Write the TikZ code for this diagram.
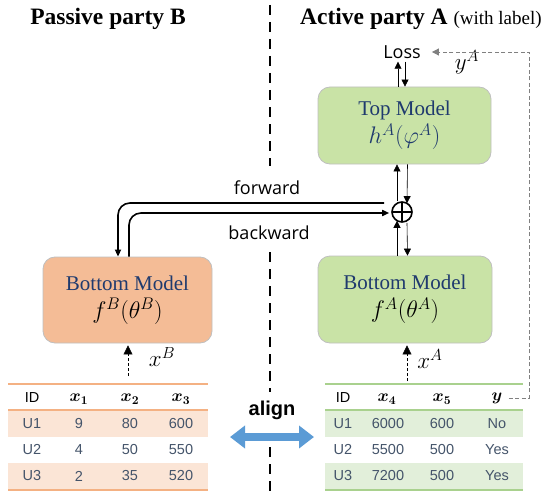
\RequirePackage{fix-cm}
\documentclass[tikz,border=0pt]{standalone}
\usepackage{fontspec}
\usepackage{bm}
\setmainfont{Liberation Serif}
\setsansfont{Liberation Sans}
\newfontfamily\lightsans{Open Sans}
\usetikzlibrary{arrows.meta,calc}
\definecolor{boxgreen}{HTML}{C9E3A6}
\definecolor{boxorange}{HTML}{F4BC96}
\definecolor{navy}{HTML}{1F3A6E}
\definecolor{rowor}{HTML}{FBE5D6}
\definecolor{rowgr}{HTML}{E2EFDA}
\definecolor{lineor}{HTML}{F4B183}
\definecolor{linegr}{HTML}{A9D18E}
\definecolor{tabtext}{HTML}{44546A}
\definecolor{alignblue}{HTML}{5B9BD5}
\tikzset{
  model/.style={draw=black!25, line width=0.8pt, rounded corners=12pt, inner sep=0pt, align=center,
     font=\fontsize{21}{27}\selectfont},
  tip/.style={-{Triangle[length=7pt,width=7pt]}},
  thinarrow/.style={line width=0.6pt, tip},
  flow/.style={line width=1.6pt, rounded corners=12pt, -{Triangle[length=7pt,width=6pt]}},
  divider/.style={line width=2.4pt, dash pattern=on 10pt off 7pt},
  cell/.style={font=\fontsize{14.5}{16}\selectfont\sffamily, text=tabtext, inner sep=0pt},
  hcell/.style={font=\fontsize{14.5}{16}\selectfont\sffamily, text=black, inner sep=0pt},
  mcell/.style={font=\fontsize{17}{17}\selectfont, inner sep=0pt},
  labeltxt/.style={font=\fontsize{18}{20}\selectfont\lightsans, inner sep=0pt},
  mathlbl/.style={font=\fontsize{23}{24}\selectfont, inner sep=0pt},
}
\begin{document}
\begin{tikzpicture}[x=1pt,y=-1pt]
\useasboundingbox (0,0) rectangle (549,495);
% titles
\node[anchor=base, font=\fontsize{23.5}{26}\selectfont\bfseries, inner sep=0pt] (titleB) at (108,25) {Passive party B};
\node[anchor=base west, font=\fontsize{23.5}{26}\selectfont, inner sep=0pt] (titleA) at (300,25) {\textbf{Active party A} {\fontsize{19}{20}\selectfont (with label)}};
% divider
\coordinate (d1) at (270,5); \coordinate (d2) at (270,166);
\coordinate (d3) at (270,252); \coordinate (d4) at (270,392);
\coordinate (d5) at (270,447); \coordinate (d6) at (270,495);
\draw[divider] (d1) -- (d2);
\draw[divider] (d3) -- (d4);
\draw[divider] (d5) -- (d6);
% models
\node[model, fill=boxgreen, minimum width=173pt, minimum height=77pt] (top) at (404.5,125.5)
  {\textcolor{navy}{Top Model}\\[1pt] \textcolor{navy}{\fontsize{24}{27}\selectfont$h^{A}(\varphi^{A})$}};
\node[model, fill=boxgreen, minimum width=174pt, minimum height=87pt] (botA) at (405,299.5)
  {\textcolor{navy}{Bottom Model}\\[1pt] {\fontsize{24}{27}\selectfont$f^{A}(\theta^{A})$}};
\node[model, fill=boxorange, minimum width=169pt, minimum height=86pt] (botB) at (127.5,300)
  {\textcolor{navy}{Bottom Model}\\[1pt] {\fontsize{24}{27}\selectfont$f^{B}(\theta^{B})$}};
% loss
\node[labeltxt] (loss) at (402,52) {Loss};
\node[mathlbl] (yA) at (467,62) {$y^{A}$};
% plus
\node[circle, draw, line width=1.6pt, minimum size=20pt, inner sep=0pt,
  path picture={\draw[line width=1.6pt] (path picture bounding box.north) -- (path picture bounding box.south)
  (path picture bounding box.west) -- (path picture bounding box.east);}] (plus) at (402,212) {};
% loss <-> top
\draw[thinarrow] ([xshift=-6.5pt]top.north) -- ([xshift=-6.5pt,yshift=-3pt]top.north |- loss.south);
\draw[thinarrow] ([xshift=0.5pt,yshift=-3pt]top.north |- loss.south) -- ([xshift=0.5pt]top.north);
% top <-> plus
\draw[thinarrow] ([xshift=-5pt]plus.north) -- ([xshift=-7.5pt]top.south);
\draw[thinarrow] ([xshift=3pt]top.south) -- ([xshift=5pt,yshift=-2pt]plus.north);
% plus <-> botA
\draw[thinarrow] ([xshift=-8pt]botA.north) -- ([xshift=-5pt,yshift=2pt]plus.south);
\draw[thinarrow] ([xshift=5pt]plus.south) -- ([xshift=2.5pt]botA.north);
% forward / backward
\draw[flow] ([xshift=-7pt,yshift=9pt]plus.west) -| ([xshift=-9.5pt]botB.north);
\draw[flow] ([xshift=1.5pt]botB.north) |- ([xshift=-2pt,yshift=-1pt]plus.west);
\node[labeltxt] (fwd) at (267,188) {forward};
\node[labeltxt] (bwd) at (269,233) {backward};
% label link
\coordinate (yc) at (529,398);
% inputs
\coordinate (xAin) at (407,381);
\coordinate (xBin) at (128,376);
\draw[line width=0.6pt, dash pattern=on 3pt off 2pt] (xAin) -- ([yshift=-8pt]xAin |- botA.south);
\draw[-{Triangle[length=9pt,width=9pt]}] ([yshift=-9pt]xAin |- botA.south) -- ([yshift=-2pt]xAin |- botA.south);
\draw[line width=0.6pt, dash pattern=on 3pt off 2pt] (xBin) -- ([yshift=-8pt]xBin |- botB.south);
\draw[-{Triangle[length=9pt,width=9pt]}] ([yshift=-9pt]xBin |- botB.south) -- ([yshift=-2pt]xBin |- botB.south);
\node[mathlbl] (xA) at (430,359) {$x^{A}$};
\node[mathlbl] (xB) at (162,357) {$x^{B}$};
% left table
\fill[rowor] (8,410) rectangle (208,437);
\fill[rowor] (8,463) rectangle (208,489);
\draw[lineor, line width=1.5pt] (8,384) -- (208,384);
\draw[lineor, line width=1.5pt] (8,410) -- (208,410);
\draw[lineor, line width=1.5pt] (8,490) -- (208,490);
\node[hcell] (L00) at (32,398) {ID};
\node[mcell] (L01) at (79,399) {$\bm{x}_{\bm{1}}$};
\node[mcell] (L02) at (130,399) {$\bm{x}_{\bm{2}}$};
\node[mcell] (L03) at (181,399) {$\bm{x}_{\bm{3}}$};
\foreach \r/\y/\a/\b/\c/\d in {1/424/U1/9/80/600, 2/450/U2/4/50/550, 3/476/U3/2/35/520}{
  \node[cell] (L\r0) at (32,\y) {\a};
  \node[cell] (L\r1) at (79,\y) {\b};
  \node[cell] (L\r2) at (130,\y) {\c};
  \node[cell] (L\r3) at (181,\y) {\d};
}
% right table
\fill[rowgr] (325,410) rectangle (523,437);
\fill[rowgr] (325,463) rectangle (523,489);
\draw[linegr, line width=1.5pt] (325,384) -- (523,384);
\draw[linegr, line width=1.5pt] (325,410) -- (523,410);
\draw[linegr, line width=1.5pt] (325,490) -- (523,490);
\node[hcell] (R00) at (343,398) {ID};
\node[mcell] (R01) at (387,399) {$\bm{x}_{\bm{4}}$};
\node[mcell] (R02) at (442,399) {$\bm{x}_{\bm{5}}$};
\node[mcell] (R03) at (497,398) {$\bm{y}$};
\foreach \r/\y/\a/\b/\c/\d in {1/424/U1/6000/600/No, 2/450/U2/5500/500/Yes, 3/476/U3/7200/500/Yes}{
  \node[cell] (R\r0) at (343,\y) {\a};
  \node[cell] (R\r1) at (388,\y) {\b};
  \node[cell] (R\r2) at (442,\y) {\c};
  \node[cell] (R\r3) at (497,\y) {\d};
}
\draw[black!50, line width=0.8pt, dash pattern=on 4pt off 2.5pt, -{Triangle[length=7pt,width=7pt]}]
  ([xshift=6pt]R03.east) -- (yc) |- ([xshift=11pt]loss.east);
% align
\coordinate (alL) at (230,437);
\coordinate (alR) at (314,437);
\draw[alignblue, line width=8pt, {Triangle[length=15pt,width=22pt]}-{Triangle[length=15pt,width=22pt]}] (alL) -- (alR);
\node[font=\fontsize{20}{22}\selectfont\sffamily\bfseries, inner sep=0pt] (align) at (272,410) {align};
\end{tikzpicture}
\end{document}
